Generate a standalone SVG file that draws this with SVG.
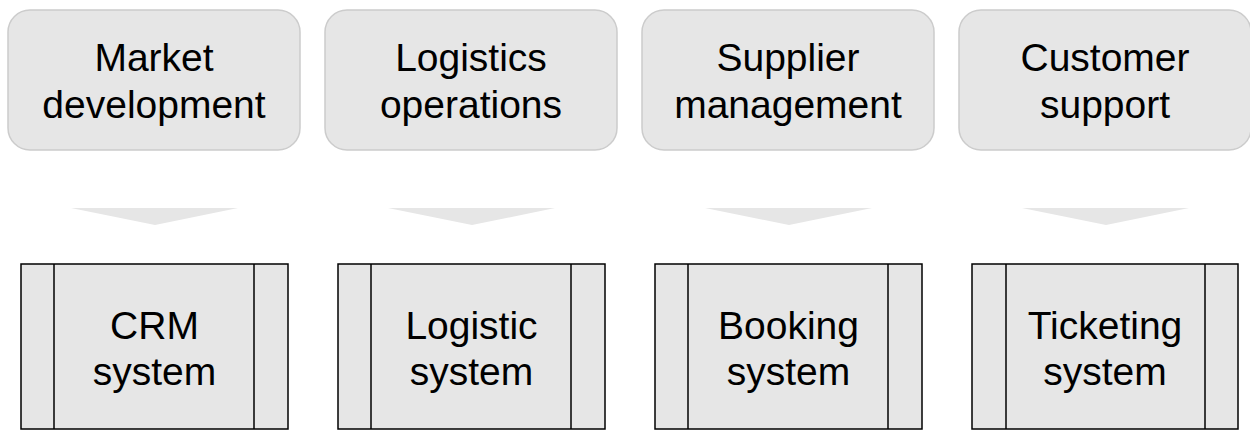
<svg xmlns="http://www.w3.org/2000/svg" width="1250" height="442" viewBox="0 0 1250 442">
<style>
.top{fill:#e6e6e6;stroke:#cccccc;stroke-width:1.5}
.sys{fill:#e6e6e6;stroke:#000;stroke-width:1.5}
.bar{stroke:#000;stroke-width:1.5}
.arr{fill:#e6e6e6;stroke:none}
text{font-family:"Liberation Sans",Arial,sans-serif;font-size:39px;fill:#000;text-anchor:middle}
</style>
<rect width="1250" height="442" fill="#fff"/>
<g id="n-market"><rect class="top" x="8" y="10" width="292" height="140" rx="22"/><text x="154" y="71">Market</text><text x="154" y="118">development</text></g>
<g id="n-logistics"><rect class="top" x="325" y="10" width="292" height="140" rx="22"/><text x="471" y="71">Logistics</text><text x="471" y="118">operations</text></g>
<g id="n-supplier"><rect class="top" x="642" y="10" width="292" height="140" rx="22"/><text x="788" y="71">Supplier</text><text x="788" y="118">management</text></g>
<g id="n-customer"><rect class="top" x="959" y="10" width="292" height="140" rx="22"/><text x="1105" y="71">Customer</text><text x="1105" y="118">support</text></g>
<g id="connectors">
<polygon class="arr" points="71,208 238,208 155,225"/>
<polygon class="arr" points="388,208 555,208 472,225"/>
<polygon class="arr" points="705,208 872,208 789,225"/>
<polygon class="arr" points="1022,208 1189,208 1106,225"/>
</g>
<g id="n-crm"><rect class="sys" x="21" y="264" width="267" height="165"/><line class="bar" x1="54" y1="264" x2="54" y2="429"/><line class="bar" x1="254" y1="264" x2="254" y2="429"/><text x="154.5" y="339">CRM</text><text x="154.5" y="385">system</text></g>
<g id="n-logistic"><rect class="sys" x="338" y="264" width="267" height="165"/><line class="bar" x1="371" y1="264" x2="371" y2="429"/><line class="bar" x1="571" y1="264" x2="571" y2="429"/><text x="471.5" y="339">Logistic</text><text x="471.5" y="385">system</text></g>
<g id="n-booking"><rect class="sys" x="655" y="264" width="267" height="165"/><line class="bar" x1="688" y1="264" x2="688" y2="429"/><line class="bar" x1="888" y1="264" x2="888" y2="429"/><text x="788.5" y="339">Booking</text><text x="788.5" y="385">system</text></g>
<g id="n-ticketing"><rect class="sys" x="972" y="264" width="266" height="165"/><line class="bar" x1="1006" y1="264" x2="1006" y2="429"/><line class="bar" x1="1205" y1="264" x2="1205" y2="429"/><text x="1105" y="339">Ticketing</text><text x="1105" y="385">system</text></g>
</svg>
